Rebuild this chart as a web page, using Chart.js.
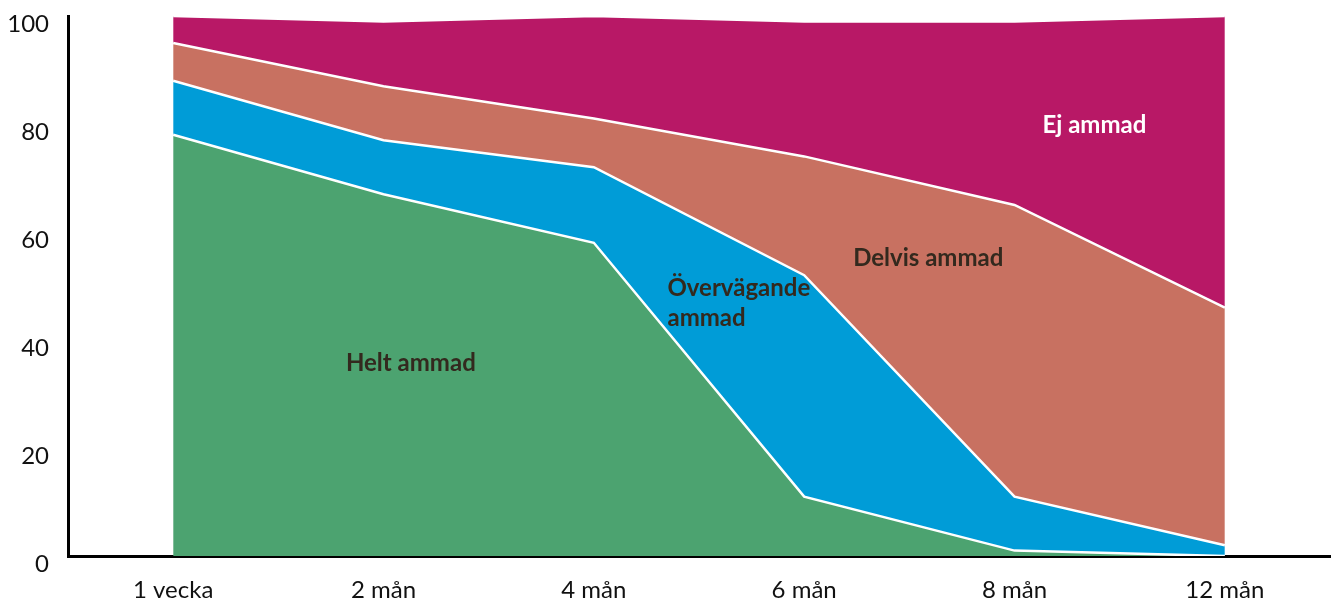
<!DOCTYPE html>
<html lang="sv">
<head>
<meta charset="utf-8">
<title>Amning</title>
<script src="https://cdn.jsdelivr.net/npm/chart.js@4/dist/chart.umd.min.js"></script>
<style>
    html, body { margin: 0; padding: 0; background: #fff; }
    #wrap { width: 1336px; height: 606px; }
</style>
</head>
<body>
<div id="wrap"><canvas id="ammaChart" width="1336" height="606"></canvas></div>
<script>
// kategorier och andelar (%)
const labels = ['1 vecka', '2 mån', '4 mån', '6 mån', '8 mån', '12 mån'];
const heltAmmad = [78, 67, 58, 11, 1, 0];
const overvagandeAmmad = [10, 10, 14, 41, 10, 2];
const delvisAmmad = [7, 10, 9, 22, 54, 44];
const ejAmmad = [5, 12, 19, 25, 34, 54];
const yTicks = [0, 20, 40, 60, 80, 100];

// etiketter inne i ytorna (x = kategoriindex, y = procent)
const areaLabels = [
    { lines: ['Helt ammad'], x: 1.13, y: 35.6, align: 'center', color: '#33291e' },
    { lines: ['Övervägande', 'ammad'], x: 2.35, y: 49.6, align: 'left', color: '#33291e' },
    { lines: ['Delvis ammad'], x: 3.59, y: 55.2, align: 'center', color: '#33291e' },
    { lines: ['Ej ammad'], x: 4.38, y: 79.8, align: 'center', color: '#ffffff' }
];

const FONT = 'Lato, "Open Sans", sans-serif';

const areaLabelPlugin = {
    id: 'areaLabels',
    afterDatasetsDraw(chart) {
        const ctx = chart.ctx;
        const xs = chart.scales.x, ys = chart.scales.y;
        ctx.save();
        ctx.font = 'bold 24px ' + FONT;
        ctx.textBaseline = 'middle';
        areaLabels.forEach(function (l) {
            const px = xs.getPixelForValue(l.x);
            const py = ys.getPixelForValue(l.y);
            ctx.fillStyle = l.color;
            ctx.textAlign = l.align;
            l.lines.forEach(function (t, i) {
                ctx.fillText(t, px, py + i * 30);
            });
        });
        ctx.restore();
    }
};

function serie(label, data, color, fill) {
    return {
        label: label,
        data: data,
        backgroundColor: color,
        borderColor: '#ffffff',
        borderWidth: 2.5,
        pointRadius: 0,
        pointHoverRadius: 0,
        tension: 0,
        fill: fill
    };
}

new Chart(document.getElementById('ammaChart'), {
    type: 'line',
    data: {
        labels: labels,
        datasets: [
            serie('Helt ammad', heltAmmad, '#4ca370', 'origin'),
            serie('Övervägande ammad', overvagandeAmmad, '#009cd7', '-1'),
            serie('Delvis ammad', delvisAmmad, '#c87161', '-1'),
            serie('Ej ammad', ejAmmad, '#b81866', '-1')
        ]
    },
    options: {
        responsive: false,
        animation: false,
        layout: { padding: { top: 16, right: 6, bottom: 0, left: 0 } },
        plugins: {
            legend: { display: false },
            tooltip: { enabled: false }
        },
        scales: {
            x: {
                offset: true,
                grid: { display: false, drawTicks: false },
                border: { display: true, color: '#000', width: 3 },
                ticks: { color: '#111', font: { family: FONT, size: 24 }, padding: 20, maxRotation: 0 },
                afterFit: function (s) { s.height = 50; s.paddingLeft = 0; s.paddingRight = 0; }
            },
            y: {
                stacked: true,
                min: 0,
                max: 100,
                afterBuildTicks: function (s) { s.ticks = yTicks.map(function (v) { return { value: v }; }); },
                grid: { display: false, drawTicks: false },
                border: { display: true, color: '#000', width: 3 },
                ticks: { color: '#111', font: { family: FONT, size: 24 }, padding: 19, labelOffset: 8 },
                afterFit: function (s) { s.width = 68; s.paddingTop = 0; s.paddingBottom = 0; }
            }
        }
    },
    plugins: [areaLabelPlugin]
});
</script>
</body>
</html>
